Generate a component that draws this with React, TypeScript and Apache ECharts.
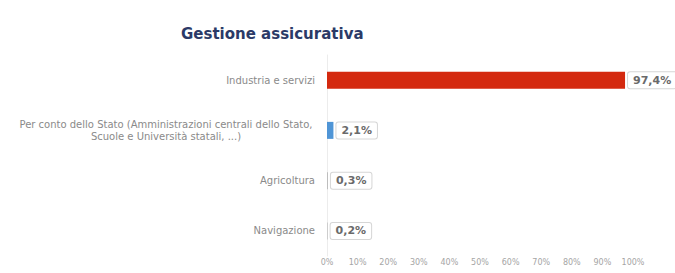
import React, { useEffect, useRef } from "react";
import * as echarts from "echarts";

const categories = [
  "Industria e servizi",
  "Per conto dello Stato (Amministrazioni centrali dello Stato,\nScuole e Università statali, ...)",
  "Agricoltura",
  "Navigazione",
];
const values = [97.4, 2.1, 0.3, 0.2];
const barColors = ["#d4290f", "#4f95d6", "#b9b9b9", "#b9b9b9"];
const xTicks = [0, 10, 20, 30, 40, 50, 60, 70, 80, 90, 100];

export default function App() {
  const ref = useRef<HTMLDivElement>(null);
  useEffect(() => {
    document.body.style.margin = "0";
    const chart = echarts.init(ref.current!, null, { renderer: "svg" });
    chart.setOption({
      animation: false,
      backgroundColor: "#ffffff",
      title: {
        text: "Gestione assicurativa",
        left: 176,
        top: 21,
        textStyle: {
          fontFamily: "DejaVu Sans",
          fontWeight: "bold",
          fontSize: 15,
          color: "#2b3a67",
        },
      },
      grid: { left: 327, top: 55, width: 306, height: 201 },
      xAxis: {
        type: "value",
        min: xTicks[0],
        max: xTicks[xTicks.length - 1],
        interval: 10,
        axisLine: { show: false },
        axisTick: { show: false },
        splitLine: { show: false },
        axisLabel: {
          formatter: (v: number) => `${v}%`,
          fontSize: 8,
          color: "#a5a5a5",
          fontFamily: "DejaVu Sans",
          margin: 2,
        },
      },
      yAxis: {
        type: "category",
        data: categories,
        inverse: true,
        axisLine: { show: true, lineStyle: { color: "#ececec" } },
        axisTick: { show: false },
        axisLabel: {
          margin: 12,
          fontSize: 10,
          color: "#8a8a8a",
          fontFamily: "DejaVu Sans",
          lineHeight: 13,
          formatter: (v: string) =>
            v.includes("\n")
              ? v
                  .split("\n")
                  .map((l) => `{c|${l}}`)
                  .join("\n")
              : v,
          rich: {
            c: {
              width: 298,
              align: "center",
              fontSize: 10,
              color: "#8a8a8a",
              fontFamily: "DejaVu Sans",
              lineHeight: 12,
            },
          },
        },
      },
      series: [
        {
          type: "bar",
          barWidth: 17,
          data: values.map((v, i) => ({
            value: v,
            itemStyle: { color: barColors[i] },
          })),
          label: {
            show: true,
            position: "right",
            distance: 3,
            formatter: (p: any) => `${String(p.value).replace(".", ",")}%`,
            fontFamily: "DejaVu Sans",
            fontWeight: "bold",
            fontSize: 11,
            color: "#6a6a6a",
            backgroundColor: "#ffffff",
            borderColor: "#d6d6d6",
            borderWidth: 1,
            borderRadius: 2,
            padding: [3, 5, 2, 5],
          },
        },
      ],
    });
    return () => chart.dispose();
  }, []);
  return <div ref={ref} style={{ width: 675, height: 273 }} />;
}
